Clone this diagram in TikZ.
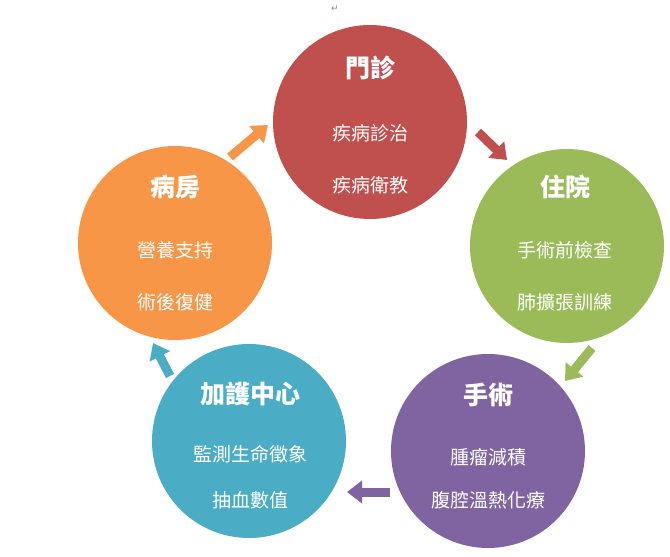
\documentclass[tikz,border=0pt]{standalone}
\usepackage{fontspec}
\setmainfont{Noto Sans CJK TC}
\newfontfamily\dejavu{DejaVu Sans}
\usetikzlibrary{arrows.meta}
\definecolor{cred}{HTML}{C0504D}
\definecolor{cgreen}{HTML}{9BBB59}
\definecolor{cpurple}{HTML}{8064A2}
\definecolor{cteal}{HTML}{4BACC6}
\definecolor{corange}{HTML}{F79646}
\tikzset{
 stage/.style={circle,minimum size=194pt,inner sep=0pt,text=white,align=center},
 ttl/.style={text=white,font=\bfseries\fontsize{25}{28}\selectfont},
 body/.style={text=white,font=\fontsize{19}{22}\selectfont},
 flow/.style={line width=9pt,-{Triangle[width=22pt,length=15pt]}}
}
\begin{document}
\begin{tikzpicture}[x=1pt,y=-1pt]
\useasboundingbox (0,0) rectangle (670,557);
\node[text=gray,font=\dejavu\fontsize{9}{10}\selectfont] (pm) at (335,9) {↵};
\node[stage,fill=cred] (c1) at (370,122) {};
\node[stage,fill=cgreen] (c2) at (567,246) {};
\node[stage,fill=cpurple] (c3) at (488,451) {};
\node[stage,fill=cteal] (c4) at (249,441) {};
\node[stage,fill=corange] (c5) at (175,243) {};
\node[ttl] (t1) at (370,68) {門診};
\node[body] (a1) at (370,133) {疾病診治};
\node[body] (b1) at (370,185) {疾病衛教};
\node[ttl] (t2) at (565,187) {住院};
\node[body] (a2) at (565,250) {手術前檢查};
\node[body] (b2) at (565,302) {肺擴張訓練};
\node[ttl] (t3) at (488,395) {手術};
\node[body] (a3) at (488,457) {腫瘤減積};
\node[body] (b3) at (488,500) {腹腔溫熱化療};
\node[ttl] (t4) at (250,394) {加護中心};
\node[body] (a4) at (250,454) {監測生命徵象};
\node[body] (b4) at (250,500) {抽血數值};
\node[ttl] (t5) at (175,187) {病房};
\node[body] (a5) at (175,250) {營養支持};
\node[body] (b5) at (175,302) {術後復健};
\coordinate (s1) at (230,157); \coordinate (e1) at (268,125);
\coordinate (s2) at (478,132); \coordinate (e2) at (507,160);
\coordinate (s3) at (592,348); \coordinate (e3) at (565,381);
\coordinate (s4) at (390,492); \coordinate (e4) at (347,492);
\coordinate (s5) at (170,376); \coordinate (e5) at (153,343);
\draw[flow,corange] (s1) -- (e1);
\draw[flow,cred] (s2) -- (e2);
\draw[flow,cgreen] (s3) -- (e3);
\draw[flow,cpurple] (s4) -- (e4);
\draw[flow,cteal] (s5) -- (e5);
\end{tikzpicture}
\end{document}
